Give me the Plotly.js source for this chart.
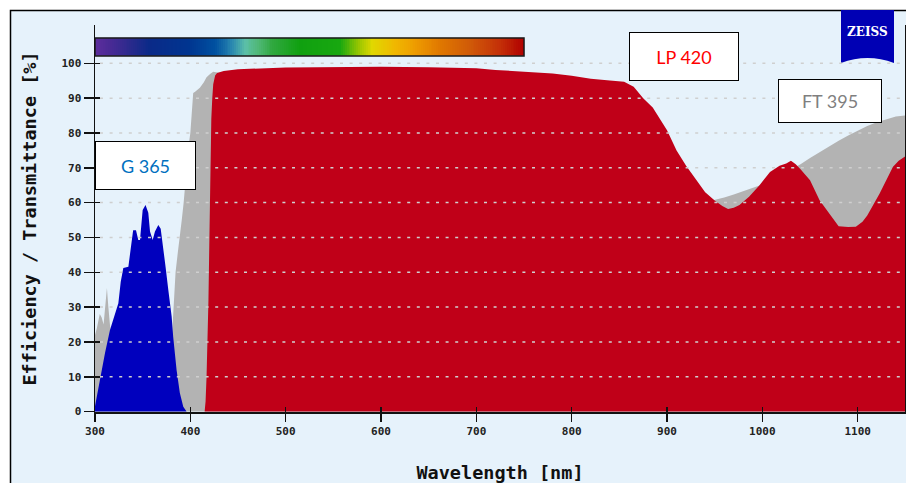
<!DOCTYPE html>
<html>
<head>
<meta charset="utf-8">
<script src="https://cdn.plot.ly/plotly-3.0.1.min.js"></script>
<style>html,body{margin:0;padding:0;background:#fff;}#chart{width:906px;height:483px;}</style>
</head>
<body>
<div id="chart"></div>
<script>
// ---- Data ----
// FT 395 (grey)
const ftWavelength = [300,302,305,307,309,311,312.5,314,316,318,320,325,330,340,370,376,380,382.5,384.5,387,389,391,393,396,398,400,402,403,405,410,414,417,421,424,430,500,600,700,800,850,870,890,905,920,935,945,950,960,970,980,990,1000,1010,1020,1030,1040,1050,1060,1070,1080,1090,1100,1110,1120,1130,1140,1150];
const ftValue = [22,24,28,27,25,31,35.5,30,23,18,12,5,2,0.5,0.5,5,18,30,40,46,50,55,60,70,76,80,88,91.5,91.8,93,94.5,96,97,97.6,97.3,97.3,97.3,97,95.5,93.5,89,84,76,67,61.5,60.5,60.8,61.5,62.3,63.2,64.1,65.2,66.5,68,69.5,71,72.8,74.5,76.2,77.8,79.3,80.7,82,83.1,84,84.7,85];
// LP 420 (red)
const lpWavelength = [415,416,417,418,419,420,421,422,423,424,426,428,435,450,500,550,600,650,700,720,750,780,800,820,840,855,865,875,885,895,900,910,920,930,940,950,958,964,970,976,986,997,1008,1018,1025,1030,1035,1040,1050,1060,1070,1080,1090,1098,1105,1110,1123,1130,1137,1143,1150];
const lpValue = [0,3,10,20,32,50,72,84,90,94,96.5,97.2,97.8,98.3,98.8,99,99,98.9,98.6,98.1,97.6,97.1,96.4,95.6,95.1,94.7,93.3,90,87.3,83,80.8,75,70.6,66.8,63,60.6,59,58.2,58.5,59.3,61.7,65,68.8,70.6,71.2,72,71,69.6,66.4,60.7,57,53.2,53,53.1,54.5,56.3,62.6,66.5,70.3,72,73.3];
// G 365 (blue)
const gWavelength = [300,305.2,310.5,315.7,321,324.5,327,329.7,335,337.4,340,343,345.4,347.2,350,353,355.9,357.7,360.5,362.9,366.4,368.9,371.6,374,376.9,380.4,382,385.6,389,392.6,396];
const gValue = [1.5,9.6,16.8,23.4,28.3,31.1,37.3,41.2,41.6,47.3,52.1,52.1,49.3,49.3,57.9,59.3,57.1,51.7,49.3,51.7,53.6,52.5,47.3,41.6,34.9,27.3,21.5,11.9,5.3,1.4,0];

// axes ticks
const xTicks = [300,400,500,600,700,800,900,1000,1100];
const yTicks = [0,10,20,30,40,50,60,70,80,90,100];
const gridValues = [10,20,30,40,50,60,70,80,90,100];

// spectrum bar (wavelength span and colours)
const barStart = 300, barEnd = 750, barLow = 102.1, barHigh = 107.3;
const spectrumStops = [
  [0,'#5c2d9c'],[0.035,'#4a2a95'],[0.082,'#2a2a8c'],[0.128,'#0a2a88'],[0.221,'#003590'],
  [0.28,'#0050a0'],[0.32,'#2a88b0'],[0.35,'#5cc0a8'],[0.38,'#50b878'],[0.413,'#30a840'],
  [0.478,'#10a010'],[0.571,'#18a810'],[0.618,'#a0c800'],[0.646,'#e0d800'],[0.699,'#f0b800'],
  [0.746,'#ee9c00'],[0.804,'#e07800'],[0.874,'#d05a08'],[0.944,'#c43008'],[1,'#b00000']
];

const barEdges = [];
for (let w = barStart; w <= barEnd; w += 2) barEdges.push(w);
const barCenters = barEdges.slice(0,-1).map((w,i)=> (w + barEdges[i+1]) / 2);

const BG = '#e6f2fb';
const monoFont = 'DejaVu Sans Mono, monospace';

const traces = [
  {type:'heatmap', x:barEdges, y:[barLow, barHigh], z:[barCenters], zmin:barStart, zmax:barEnd,
   colorscale:spectrumStops, showscale:false, hoverinfo:'skip'},
  {type:'scatter', mode:'lines', x:ftWavelength, y:ftValue, fill:'tozeroy', fillcolor:'#b3b3b3',
   line:{width:0, color:'#b3b3b3'}, name:'FT 395', showlegend:false},
  {type:'scatter', mode:'lines', x:lpWavelength, y:lpValue, fill:'tozeroy', fillcolor:'#c00018',
   line:{width:0, color:'#c00018'}, name:'LP 420', showlegend:false},
  {type:'scatter', mode:'lines', x:gWavelength, y:gValue, fill:'tozeroy', fillcolor:'#0000be',
   line:{width:0, color:'#0000be'}, name:'G 365', showlegend:false},
  {type:'scatter', x:[], y:[], xaxis:'x2', yaxis:'y2', showlegend:false, hoverinfo:'skip'}
];

// pixel -> paper helpers (plot area: x 95..905, y 25..412)
const L = 95, T = 25, W = 810, H = 387;
const px = v => (v - L) / W;
const py = v => (T + H - v) / H;

const shapes = [
  {type:'rect', xref:'paper', yref:'paper', x0:px(10.5), x1:px(920), y0:py(500), y1:py(10.5),
   line:{color:'#000', width:1.5}, fillcolor:BG, layer:'below'},
  {type:'rect', xref:'x', yref:'y', x0:barStart, x1:barEnd, y0:barLow, y1:barHigh,
   line:{color:'#1a1a1a', width:1.5}, layer:'above'},
  {type:'path', xref:'paper', yref:'paper',
   path:`M ${px(841)},${py(10)} L ${px(894)},${py(10)} L ${px(894)},${py(63)} Q ${px(867.5)},${py(53)} ${px(841)},${py(63)} Z`,
   fillcolor:'#0000b4', line:{width:0}, layer:'above'}
];
gridValues.forEach(v => shapes.push({
  type:'line', xref:'paper', yref:'y', x0:px(100), x1:1, y0:v, y1:v,
  line:{color:'#cfcfcf', width:1.5, dash:'3px,6.6px'}, layer:'above'
}));

const boxFont = 'Lato, Open Sans, sans-serif';
const annotations = [
  {xref:'paper', yref:'paper', x:px(145), y:py(165), xanchor:'center', yanchor:'middle',
   text:'G 365', showarrow:false, font:{family:boxFont, size:18, color:'#0070c0'},
   bgcolor:'#fff', bordercolor:'#000', borderwidth:1, width:97, height:45},
  {xref:'paper', yref:'paper', x:px(683.5), y:py(56), xanchor:'center', yanchor:'middle',
   text:'LP 420', showarrow:false, font:{family:boxFont, size:18, color:'#ff0000'},
   bgcolor:'#fff', bordercolor:'#000', borderwidth:1, width:106, height:45},
  {xref:'paper', yref:'paper', x:px(829.5), y:py(100.5), xanchor:'center', yanchor:'middle',
   text:'FT 395', showarrow:false, font:{family:boxFont, size:18, color:'#7f7f7f'},
   bgcolor:'#fff', bordercolor:'#000', borderwidth:1, width:100, height:40},
  {xref:'paper', yref:'paper', x:px(867.5), y:py(32), xanchor:'center', yanchor:'middle',
   text:'ZEISS', showarrow:false, font:{family:'DejaVu Serif, serif', size:12, color:'#fff', weight:'bold'}}
];

const layout = {
  width:906, height:483,
  margin:{l:L, r:1, t:T, b:71, pad:0},
  paper_bgcolor:'#ffffff', plot_bgcolor:BG,
  showlegend:false,
  xaxis:{range:[300,1149.6], tickvals:xTicks, ticktext:xTicks.map(String), ticks:'outside', ticklen:8,
    tickwidth:1.5, tickcolor:'#111', showline:true, linecolor:'#111', linewidth:1.5, showgrid:false,
    zeroline:false, automargin:false, tickfont:{family:monoFont, size:11, color:'#222', weight:'bold'},
    title:{text:'Wavelength [nm]', font:{family:monoFont, size:18.5, color:'#111', weight:'bold'}, standoff:29}},
  yaxis:{range:[-0.12,111], tickvals:yTicks, ticktext:yTicks.map(String), ticks:'outside', ticklen:10,
    tickwidth:1.5, tickcolor:'#111', showline:true, mirror:true, linecolor:'#111', linewidth:1.5,
    showgrid:false, zeroline:false, automargin:false,
    tickfont:{family:monoFont, size:11, color:'#222', weight:'bold'},
    title:{text:'Efficiency / Transmittance [%]', font:{family:monoFont, size:18.5, color:'#111', weight:'bold'}, standoff:20}},
  xaxis2:{overlaying:'x', anchor:'y', range:[300,1149.6], tickvals:xTicks, ticks:'inside', ticklen:5,
    tickwidth:1.5, tickcolor:'#111', showticklabels:false, showline:false, showgrid:false, zeroline:false},
  yaxis2:{overlaying:'y', anchor:'x', side:'left', range:[-0.12,111], tickvals:yTicks, ticks:'inside', ticklen:5,
    tickwidth:1.5, tickcolor:'#111', showticklabels:false, showline:false, showgrid:false, zeroline:false},
  shapes:shapes,
  annotations:annotations
};

Plotly.newPlot('chart', traces, layout, {staticPlot:true, displayModeBar:false});
</script>
</body>
</html>
